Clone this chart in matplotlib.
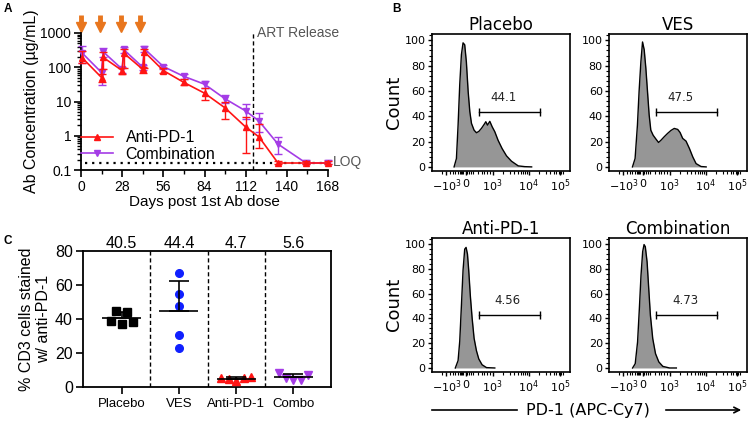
import numpy as np
import matplotlib.pyplot as plt
from matplotlib.ticker import MultipleLocator, LogLocator, FixedLocator, NullFormatter, FuncFormatter
from matplotlib.lines import Line2D
from matplotlib.transforms import blended_transform_factory

plt.rcParams['font.family'] = ['Liberation Sans', 'DejaVu Sans']

# ---------------- data ----------------
# Panel A: antibody PK
days = np.array([1, 14, 15, 28, 29, 42, 43, 56, 70, 84, 98, 112, 121, 134, 153, 168])
pd1_mean = np.array([185, 50, 195, 80, 260, 87, 285, 80, 36, 17.5, 6.5, 1.8, 0.93, 0.16, 0.16, 0.16])
pd1_lo = np.array([130, 38, 90, 65, 95, 70, 95, 70, 30, 11, 3.0, 0.32, 0.45, 0.15, 0.15, 0.15])
pd1_hi = np.array([290, 65, 280, 95, 330, 105, 340, 95, 44, 25, 10, 3.5, 2.2, 0.18, 0.18, 0.18])
comb_mean = np.array([255, 70, 285, 88, 330, 100, 350, 105, 54, 32, 12, 5.3, 2.7, 0.57, 0.16, 0.16])
comb_lo = np.array([130, 30, 200, 70, 260, 85, 270, 90, 45, 25, 9, 3.0, 1.3, 0.3, 0.15, 0.15])
comb_hi = np.array([420, 87, 360, 105, 400, 120, 420, 120, 65, 40, 16, 8.5, 4.6, 0.95, 0.19, 0.19])
dose_days = [0, 13, 27, 40]
art_day = 117
loq = 0.155

# Panel C: % CD3 cells stained
groups = ['Placebo', 'VES', 'Anti-PD-1', 'Combo']
placebo = [44.6, 44.2, 38.7, 36.8, 37.9]
ves = [66.8, 54.5, 47.6, 30.5, 22.6]
antipd1 = [5.0, 4.5, 3.2, 4.9, 5.9]
combo = [8.2, 4.9, 3.9, 4.0, 7.0]
mean_labels = ['40.5', '44.4', '4.7', '5.6']

# Panel B: flow histograms (x in fraction of axis width, y = % of max)
plac_x = [0.160, 0.177, 0.189, 0.201, 0.213, 0.225, 0.237, 0.249, 0.262, 0.274, 0.286, 0.305, 0.322, 0.339,
          0.358, 0.378, 0.390, 0.402, 0.419, 0.436, 0.455, 0.479, 0.508, 0.540, 0.576, 0.625, 0.673, 0.722]
plac_y = [0, 6.6, 33, 65, 88.6, 98, 96.5, 83, 59.5, 43.7, 34.4, 29, 27, 28,
          30.4, 33.6, 35.7, 33, 36, 31.7, 27.8, 21, 14.5, 8.7, 4.5, 0.8, 0.2, 0]
ves_x = [0.170, 0.189, 0.206, 0.218, 0.231, 0.243, 0.255, 0.267, 0.279, 0.291, 0.303, 0.320, 0.340, 0.359,
         0.376, 0.400, 0.425, 0.449, 0.473, 0.498, 0.515, 0.534, 0.558, 0.583, 0.607, 0.631, 0.667, 0.704]
ves_y = [0, 6.6, 33, 59.5, 83, 98.7, 92.6, 78, 59.5, 41, 29, 25, 22, 19.3,
         21, 23.8, 26.5, 28.8, 30.4, 29.6, 27.2, 22.5, 20.4, 14.5, 7.9, 2.6, 0.3, 0]
apd_x = [0.169, 0.189, 0.201, 0.213, 0.225, 0.237, 0.247, 0.257, 0.266, 0.278, 0.291, 0.305, 0.322, 0.339,
         0.363, 0.395, 0.455]
apd_y = [0, 6, 21.7, 50, 79, 96, 97.4, 92, 79, 58, 40, 24, 14, 7.3, 2.6, 0.3, 0]
cmb_x = [0.171, 0.190, 0.207, 0.220, 0.232, 0.244, 0.254, 0.263, 0.276, 0.288, 0.300, 0.317, 0.337, 0.361,
         0.390, 0.439, 0.488]
cmb_y = [0, 3.5, 21, 48, 75, 94, 99.7, 98, 85.7, 64, 42.6, 23.7, 11.6, 4.9, 1.3, 0, 0]
hist_titles = ['Placebo', 'VES', 'Anti-PD-1', 'Combination']
gate_labels = ['44.1', '47.5', '4.56', '4.73']

red = '#ff1414'
purple = '#a43ce6'
orange = '#e8761e'
grey = '#555555'

W, H = 750, 421
fig = plt.figure(figsize=(7.5, 4.21), dpi=100)


def box(l, t, r, b):
    return [l / W, 1 - b / H, (r - l) / W, (b - t) / H]


# ---------------- Panel A ----------------
axA = fig.add_axes(box(81, 33, 328, 170))
axA.set_yscale('log')
axA.errorbar(days, comb_mean, yerr=[comb_mean - comb_lo, comb_hi - comb_mean], fmt='-v', color=purple,
             ms=5, lw=1.2, elinewidth=1, capsize=3, clip_on=False, zorder=3)
axA.errorbar(days, pd1_mean, yerr=[pd1_mean - pd1_lo, pd1_hi - pd1_mean], fmt='-^', color=red,
             ms=5, lw=1.2, elinewidth=1, capsize=3, clip_on=False, zorder=4)
axA.plot([3, 168], [loq, loq], color='k', lw=1.6, ls=(0, (1, 2.2)), zorder=2)
axA.axvline(art_day, color='k', lw=1, ls=(0, (3, 2)), ymax=1.01, clip_on=False)
axA.text(120, 1000, 'ART Release', color=grey, fontsize=10, va='center')
axA.text(171, 0.17, 'LOQ', color=grey, fontsize=10, va='center')
# dosing arrows above the axes
trA = blended_transform_factory(axA.transData, axA.transAxes)
for d in dose_days:
    axA.plot([d, d], [1.135, 1.06], transform=trA, color=orange, lw=3.5, clip_on=False,
             solid_capstyle='butt')
    axA.plot([d], [1.045], transform=trA, marker='v', ms=7.5, color=orange, clip_on=False)
axA.set_xlim(0, 168)
axA.set_ylim(0.1, 1000)
axA.set_xticks(range(0, 169, 28))
axA.xaxis.set_minor_locator(MultipleLocator(14))
axA.yaxis.set_major_locator(FixedLocator([0.1, 1, 10, 100, 1000]))
axA.yaxis.set_major_formatter(FuncFormatter(lambda v, p: '%g' % v))
axA.yaxis.set_minor_locator(LogLocator(subs=np.arange(2, 10)))
axA.yaxis.set_minor_formatter(NullFormatter())
axA.spines['top'].set_visible(False)
axA.spines['right'].set_visible(False)
for s in ['left', 'bottom']:
    axA.spines[s].set_linewidth(1.3)
axA.tick_params(which='major', length=5, width=1.2, labelsize=10, pad=2)
axA.tick_params(which='minor', length=3, width=1)
axA.set_ylabel('Ab Concentration (µg/mL)', fontsize=11.5, labelpad=1)
axA.set_xlabel('Days post 1st Ab dose', fontsize=11, labelpad=1)
hA = [Line2D([], [], color=red, marker='^', ms=5, lw=1.2),
      Line2D([], [], color=purple, marker='v', ms=5, lw=1.2)]
axA.legend(hA, ['Anti-PD-1', 'Combination'], loc='lower left', bbox_to_anchor=(0.0, 0.06),
           frameon=False, fontsize=11.5, handlelength=2.0, handletextpad=0.8, labelspacing=0.1,
           borderpad=0, borderaxespad=0)

# ---------------- Panel C ----------------
axC = fig.add_axes(box(82.7, 251, 330.7, 386.7))


def spread(vals, gap=3.0):
    vals = np.asarray(vals, float)
    order = np.argsort(vals)
    off = np.zeros(len(vals))
    clusters = [[order[0]]]
    for a, b in zip(order[:-1], order[1:]):
        if vals[b] - vals[a] < gap:
            clusters[-1].append(b)
        else:
            clusters.append([b])
    for c in clusters:
        c = sorted(c)
        n = len(c)
        if n > 1:
            step = min(0.19, 0.52 / (n - 1))
            for k, idx in enumerate(c):
                off[idx] = (k - (n - 1) / 2) * step
    return off


styles = [('s', 'k'), ('o', '#1020ff'), ('^', red), ('v', purple)]
for i, vals in enumerate([placebo, ves, antipd1, combo]):
    m, c = styles[i]
    axC.plot(i + spread(vals), vals, ls='none', marker=m, color=c, ms=5.5, zorder=3, clip_on=False)
    mu = np.mean(vals)
    sd = np.std(vals, ddof=1)
    axC.hlines(mu, i - 0.34, i + 0.34, color='k', lw=1.2, zorder=4)
    axC.errorbar(i, mu, yerr=[[0], [sd]], color='k', lw=1.2, capsize=7, capthick=1.2, zorder=4)
    axC.text(i, 81.6, mean_labels[i], ha='center', va='baseline', fontsize=11.5)
for xs in [0.5, 1.5, 2.5]:
    axC.axvline(xs, color='k', lw=1, ls=(0, (3, 2)))
axC.set_xlim(-0.68, 3.65)
axC.set_ylim(0, 80)
axC.set_xticks(range(4))
axC.set_xticklabels(groups, fontsize=9.5)
axC.set_yticks(range(0, 81, 20))
axC.tick_params(axis='y', labelsize=11.5, length=5, width=1.2, pad=2)
axC.tick_params(axis='x', length=5, width=1.2, pad=3)
for s in axC.spines.values():
    s.set_linewidth(1.3)
axC.set_ylabel('% CD3 cells stained\nw/ anti-PD-1', fontsize=11.5, labelpad=3, linespacing=1.15)

# ---------------- Panel B ----------------
hist_boxes = [box(432, 34, 570, 170.7), box(609, 34, 747, 170.7),
              box(432, 238, 570, 371.7), box(609, 238, 747, 371.7)]
hist_data = [(plac_x, plac_y), (ves_x, ves_y), (apd_x, apd_y), (cmb_x, cmb_y)]
gate_text_x = [0.515, 0.515, 0.55, 0.555]
xt_pos = [0.105, 0.245, 0.44, 0.70, 0.93]
xt_lab = ['$-10^3$', '$0$', '$10^3$', '$10^4$', '$10^5$']
xt_minor = [0.07, 0.13, 0.15, 0.17, 0.185, 0.20, 0.21, 0.22, 0.228, 0.248, 0.256, 0.266, 0.28, 0.30,
            0.33, 0.36, 0.38, 0.40, 0.42, 0.518, 0.563, 0.596, 0.621, 0.642, 0.659, 0.674, 0.687,
            0.778, 0.824, 0.856, 0.881, 0.902, 0.919, 0.934, 0.947]
for k in range(4):
    ax = fig.add_axes(hist_boxes[k])
    hx, hy = hist_data[k]
    ax.fill_between(hx, hy, 0, color='#969696', lw=0)
    ax.plot(hx, hy, color='k', lw=1)
    ax.plot([0.34, 0.78], [43, 43], color='k', lw=1)
    ax.plot([0.34, 0.78], [43, 43], ls='none', marker='|', ms=6, mew=1, color='k')
    ax.text(gate_text_x[k], 52, gate_labels[k], ha='center', va='baseline', fontsize=8.5,
            family='DejaVu Sans', color='#222222')
    ax.set_xlim(0, 1)
    ax.set_ylim(-3, 105)
    ax.set_title(hist_titles[k], fontsize=12, family='DejaVu Sans', pad=2)
    ax.set_xticks(xt_pos)
    ax.set_xticklabels(xt_lab)
    ax.xaxis.set_minor_locator(FixedLocator(xt_minor))
    ax.set_yticks(range(0, 101, 20))
    ax.yaxis.set_minor_locator(MultipleLocator(4))
    ax.tick_params(which='major', length=3, width=1, labelsize=8, pad=1.5)
    ax.tick_params(axis='x', which='major', labelsize=8)
    ax.tick_params(which='minor', length=2, width=0.8)
    for lab in ax.get_xticklabels() + ax.get_yticklabels():
        lab.set_family('DejaVu Sans')
    for s in ax.spines.values():
        s.set_linewidth(1.2)
    if k % 2 == 0:
        ax.set_ylabel('Count', fontsize=13, family='DejaVu Sans', labelpad=1)

yl = 1 - 410 / H
fig.add_artist(Line2D([432 / W, 517 / W], [yl, yl], color='k', lw=1.2))
fig.text(588 / W, yl, 'PD-1 (APC-Cy7)', ha='center', va='center', fontsize=11.5, family='DejaVu Sans')
axC.annotate('', xy=(744 / W, yl), xytext=(663 / W, yl), xycoords='figure fraction',
             arrowprops=dict(arrowstyle='->', lw=1.2, color='k'))

# panel letters
fig.text(4 / W, 1 - 9 / H, 'A', fontsize=8.5, fontweight='bold', va='center')
fig.text(392 / W, 1 - 9 / H, 'B', fontsize=8.5, fontweight='bold', va='center')
fig.text(4 / W, 1 - 241 / H, 'C', fontsize=8.5, fontweight='bold', va='center')

fig.savefig('out.png', dpi=100)
